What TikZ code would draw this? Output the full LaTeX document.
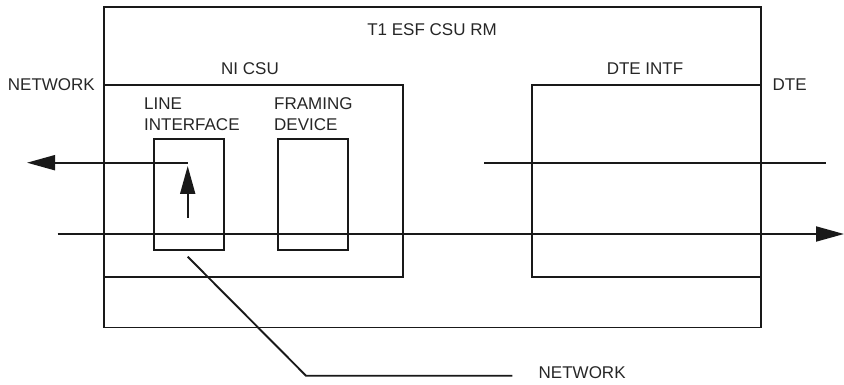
\documentclass[tikz,border=0pt]{standalone}
\usepackage{fontspec}
\setmainfont{Liberation Sans}
\usetikzlibrary{arrows.meta}
\begin{document}
\begin{tikzpicture}[x=1pt,y=-1pt,
  wire/.style={draw=black!90,line width=1.9pt},
  lbl/.style={font=\fontsize{17}{21}\selectfont,text=black!85,inner sep=0pt},
  bigtip/.style={-{Triangle[length=28pt,width=15pt]}}
]
\useasboundingbox (0,0) rectangle (844,385);
% boxes
\draw[wire] (104,7) coordinate (oTL) rectangle (761,327.5) coordinate (oBR);
\draw[wire] (104,85) coordinate (nTL) rectangle (402.7,276.7) coordinate (nBR);
\draw[wire] (531.7,85) coordinate (dTL) rectangle (761,277) coordinate (dBR);
\draw[wire] (154.3,139) coordinate (liTL) rectangle (224,250) coordinate (liBR);
\draw[wire] (278.3,139) coordinate (fdTL) rectangle (348.3,250) coordinate (fdBR);
% coordinates for connectors
\coordinate (upS) at (187.7,162.7);
\coordinate (upE) at (27,162.7);
\coordinate (vS) at (187.7,218);
\coordinate (vE) at (187.7,166);
\coordinate (dteS) at (484.3,162.7);
\coordinate (dteE) at (825.7,162.7);
\coordinate (loS) at (57.7,234);
\coordinate (loE) at (844,234);
\coordinate (diagS) at (187.7,256.7);
\coordinate (diagM) at (306,375.7);
\coordinate (diagE) at (512.3,375.7);
% connectors
\draw[wire,bigtip] (upS) -- (upE);
\draw[wire,bigtip] (vS) -- (vE);
\draw[wire] (dteS) -- (dteE);
\draw[wire,bigtip] (loS) -- (loE);
\draw[wire] (diagS) -- (diagM) -- (diagE);
% labels
\node[lbl] (t1) at (432,30) {T1 ESF CSU RM};
\node[lbl] (nicsu) at (250,68.5) {NI CSU};
\node[lbl,anchor=east] (netL) at (95,84.5) {NETWORK};
\node[lbl,anchor=west,align=left] (li) at (144,114.5) {LINE\\INTERFACE};
\node[lbl,anchor=west,align=left] (fd) at (274,114.5) {FRAMING\\DEVICE};
\node[lbl] (dteintf) at (645,68.5) {DTE INTF};
\node[lbl,anchor=west] (dte) at (772.5,84.5) {DTE};
\node[lbl,anchor=west] (netB) at (538.5,372.5) {NETWORK};
\end{tikzpicture}
\end{document}
